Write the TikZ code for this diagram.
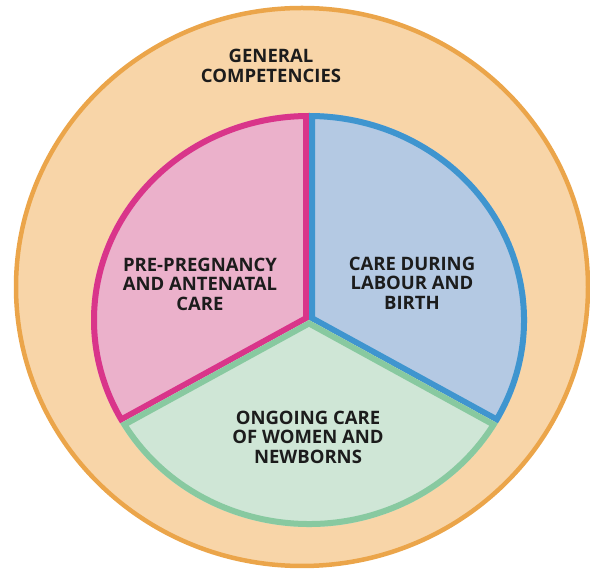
\documentclass[tikz,border=0pt]{standalone}
\usepackage{fontspec}
\setmainfont{Open Sans}
\usepackage{tikz}
\usetikzlibrary{positioning}
\definecolor{ringorange}{HTML}{EBA54A}
\definecolor{ringfill}{HTML}{F8D5A8}
\definecolor{pinkline}{HTML}{D9358A}
\definecolor{pinkfill}{HTML}{EBB1CB}
\definecolor{blueline}{HTML}{3F95CF}
\definecolor{bluefill}{HTML}{B4C9E3}
\definecolor{greenline}{HTML}{88C9A0}
\definecolor{greenfill}{HTML}{CFE6D6}
\definecolor{labelink}{HTML}{1C1C1C}

\tikzset{
  caption/.style={labelink, font=\fontsize{18.5}{19.5}\selectfont\bfseries, align=center, inner sep=0pt}
}

\begin{document}
\begin{tikzpicture}[x=1pt, y=1pt]
  \useasboundingbox (0,0) rectangle (590,573);

  % Outer ring
  \fill[ringfill] (302,286) ellipse [x radius=286, y radius=279];
  \draw[ringorange, line width=4.5pt] (302,286) ellipse [x radius=286, y radius=279];

  % Three sectors, each stroked on its inside
  \begin{scope}[shift={(309,253)}]
    \foreach \from/\to/\fillcol/\linecol in {90/210/pinkfill/pinkline, -30/90/bluefill/blueline, 210/330/greenfill/greenline} {
      \begin{scope}
        \clip (0,0) -- (\from:218 and 207) arc[start angle=\from, end angle=\to, x radius=218, y radius=207] -- cycle;
        \fill[\fillcol] (0,0) -- (\from:218 and 207) arc[start angle=\from, end angle=\to, x radius=218, y radius=207] -- cycle;
        \draw[\linecol, line width=12pt] (0,0) -- (\from:218 and 207) arc[start angle=\from, end angle=\to, x radius=218, y radius=207] -- cycle;
      \end{scope}
    }
  \end{scope}

  % Labels
  \node[caption] (general) at (271,507) {GENERAL\\COMPETENCIES};
  \node[caption] (antenatal) at (200,289) {PRE-PREGNANCY\\AND ANTENATAL\\CARE};
  \node[caption] (birth) at (412,290) {CARE DURING\\LABOUR AND\\BIRTH};
  \node[caption] (ongoing) at (308,136) {ONGOING CARE\\OF WOMEN AND\\NEWBORNS};
\end{tikzpicture}
\end{document}
